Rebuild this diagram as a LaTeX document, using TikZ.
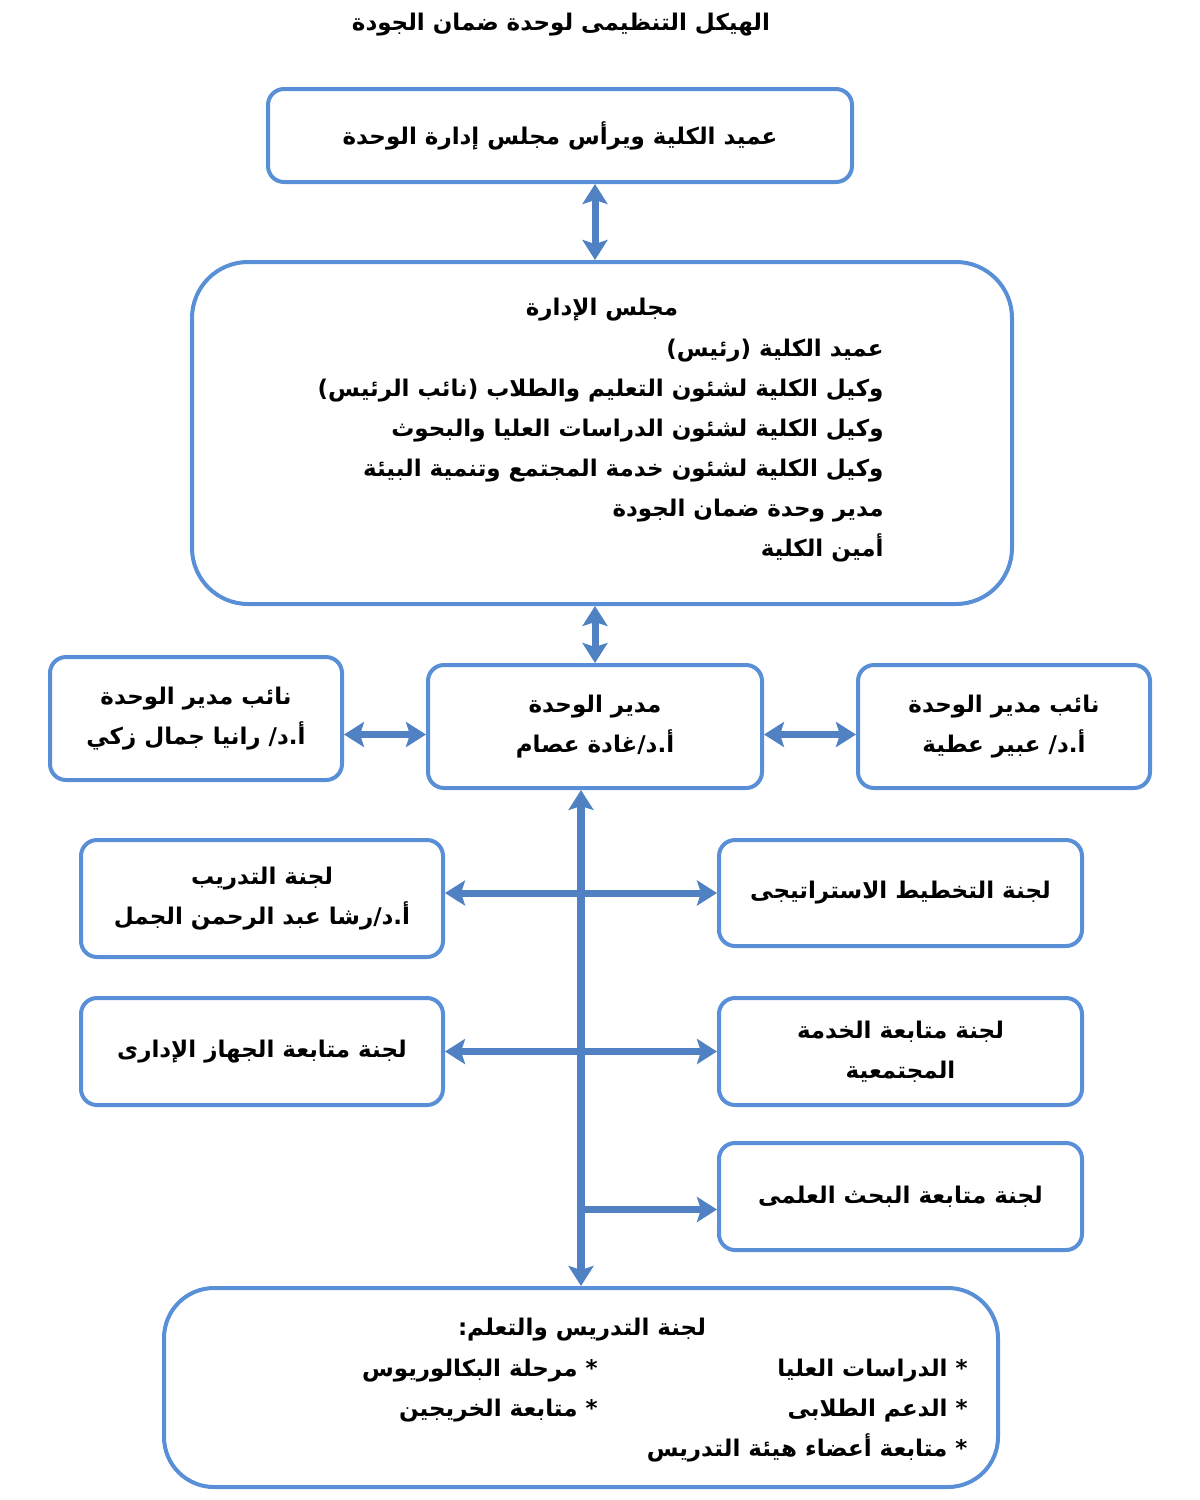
\documentclass[tikz,border=0pt]{standalone}
\usepackage{fontspec}
\newfontfamily\arabicfont[Script=Arabic]{DejaVu Sans}
\TeXXeTstate=1
\usetikzlibrary{arrows.meta,calc,positioning}
\definecolor{unitblue}{RGB}{88,143,214}
\definecolor{linkblue}{RGB}{80,130,195}
\newcommand{\ar}[1]{\beginR #1\endR}

\begin{document}
\begin{tikzpicture}[x=0.5pt, y=-0.5pt,
  font=\arabicfont\bfseries\fontsize{11.5}{20}\selectfont,
  unit/.style={draw=unitblue, line width=2pt, rounded corners=8pt, align=center, inner sep=0pt},
  bigunit/.style={unit, rounded corners=28pt},
  txt/.style={inner sep=0pt, align=right},
  link/.style={draw=linkblue, line width=3.5pt,
    {Stealth[length=10pt,width=12.5pt,inset=2pt]}-{Stealth[length=10pt,width=12.5pt,inset=2pt]}},
  feed/.style={draw=linkblue, line width=3.5pt, -{Stealth[length=10pt,width=12.5pt,inset=2pt]}}]
  \useasboundingbox (0,0) rectangle (1200,1500);

  \node[txt] (title) at (561,25) {\ar{الهيكل التنظيمى لوحدة ضمان الجودة}};

  % top levels
  \node[unit, minimum width=292pt, minimum height=46.5pt] (dean) at (560,135.5)
    {\ar{عميد الكلية ويرأس مجلس إدارة الوحدة}};
  \node[bigunit, minimum width=410pt, minimum height=171pt] (council) at (602,433) {};
  \node[txt] (councilhead) at (602,310) {\ar{مجلس الإدارة}};
  \node[txt, anchor=east] (councillist) at (884,451)
    {\ar{عميد الكلية (رئيس)}\\
     \ar{وكيل الكلية لشئون التعليم والطلاب (نائب الرئيس)}\\
     \ar{وكيل الكلية لشئون الدراسات العليا والبحوث}\\
     \ar{وكيل الكلية لشئون خدمة المجتمع وتنمية البيئة}\\
     \ar{مدير وحدة ضمان الجودة}\\
     \ar{أمين الكلية}};

  \node[unit, minimum width=167pt, minimum height=61.5pt] (director) at (595,726.5)
    {\ar{مدير الوحدة}\\ \ar{أ.د/غادة عصام}};
  \node[unit, minimum width=146pt, minimum height=61.5pt] (deputyA) at (196,718.5)
    {\ar{نائب مدير الوحدة}\\ \ar{أ.د/ رانيا جمال زكي}};
  \node[unit, minimum width=146pt, minimum height=61.5pt] (deputyB) at (1004,726.5)
    {\ar{نائب مدير الوحدة}\\ \ar{أ.د/ عبير عطية}};

  % committees
  \node[unit, minimum width=181pt, minimum height=58.5pt] (training) at (262,898.5)
    {\ar{لجنة التدريب}\\ \ar{أ.د/رشا عبد الرحمن الجمل}};
  \node[unit, minimum width=181.5pt, minimum height=53pt] (strategic) at (900.5,893)
    {\ar{لجنة التخطيط الاستراتيجى}};
  \node[unit, minimum width=181pt, minimum height=53.5pt] (admin) at (262,1051.5)
    {\ar{لجنة متابعة الجهاز الإدارى}};
  \node[unit, minimum width=181.5pt, minimum height=53.5pt] (community) at (900.5,1051.5)
    {\ar{لجنة متابعة الخدمة}\\ \ar{المجتمعية}};
  \node[unit, minimum width=181.5pt, minimum height=53.5pt] (research) at (900.5,1196.5)
    {\ar{لجنة متابعة البحث العلمى}};

  \node[bigunit, rounded corners=25pt, minimum width=417pt, minimum height=99.5pt] (teaching) at (581,1387.5) {};
  \node[txt] (teachhead) at (582,1330) {\ar{لجنة التدريس والتعلم:}};
  \node[txt, anchor=east] (teachright) at (968,1411)
    {\ar{* الدراسات العليا}\\ \ar{* الدعم الطلابى}\\ \ar{* متابعة أعضاء هيئة التدريس}};
  \node[txt, anchor=east] (teachleft) at (598,1390.5)
    {\ar{* مرحلة البكالوريوس}\\ \ar{* متابعة الخريجين}};

  % connectors
  \draw[link] (dean.south -| director.center) -- (council.north -| director.center);
  \draw[link] (council.south -| director.center) -- (director.north);
  \coordinate (wlink) at ($(director.west)+(0,8)$);
  \coordinate (elink) at ($(director.east)+(0,8)$);
  \draw[link] (wlink) -- (wlink -| deputyA.east);
  \draw[link] (elink) -- (elink -| deputyB.west);
  \coordinate (trunktop) at (director.south -| teaching.north);
  \draw[link, line width=4pt] (trunktop) -- (teaching.north);
  \draw[link] (training.east |- strategic.west) -- (strategic.west);
  \draw[link] (admin.east) -- (community.west);
  \coordinate (rlink) at ($(research.west)+(0,13)$);
  \draw[feed] (rlink -| trunktop) -- (rlink);
\end{tikzpicture}
\end{document}
